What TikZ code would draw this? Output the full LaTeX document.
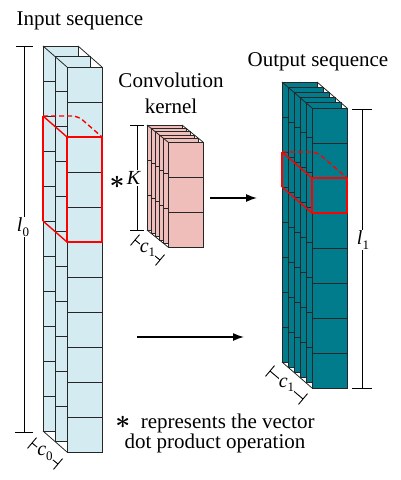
\documentclass[tikz,border=0pt]{standalone}
\usepackage{fontspec}
\setmainfont{Liberation Serif}
\usetikzlibrary{arrows.meta,calc}
\definecolor{incol}{RGB}{212,236,241}
\definecolor{kercol}{RGB}{240,190,186}
\definecolor{outcol}{RGB}{0,124,141}
\tikzset{
  cellline/.style={draw=black!85, line width=0.8pt},
  redbox/.style={draw=red, line width=1.4pt, line join=round},
  dimline/.style={draw=black, line width=0.9pt},
  lbl/.style={font=\fontsize{21}{22}\selectfont, inner sep=0.5pt},
  dimlbl/.style={font=\fontsize{20}{22}\selectfont, inner sep=1pt, fill=white},
  arr/.style={-{Latex[length=11pt,width=8pt]}, line width=1.4pt},
}
\newcommand\ilab[2]{\textit{#1}\raisebox{-0.22em}{\fontsize{13}{13}\selectfont #2}}
\newcommand\bigast{\scalebox{1.25}{\boldmath$\ast$}}
% #1 front x, #2 front y, #3 layers, #4 cells, #5 dx, #6 dy, #7 colour
\newcommand\layerstack[7]{%
  \pgfmathsetmacro\lsH{#4*35}%
  \pgfmathtruncatemacro\lsC{#4-1}%
  \pgfmathsetmacro\lsBX{#1-(#3-1)*#5}%
  \pgfmathsetmacro\lsBY{#2-(#3-1)*#6}%
  \foreach \i in {1,...,#3}{%
    \pgfmathsetmacro\lsX{#1-(#3-\i)*#5}%
    \pgfmathsetmacro\lsY{#2-(#3-\i)*#6}%
    \fill[#7] (\lsX,\lsY) rectangle ++(35,\lsH);
    \foreach \k in {1,...,\lsC}{\draw[cellline] (\lsX,\lsY+\k*35) -- ++(35,0);}
    \draw[cellline] (\lsX,\lsY) rectangle ++(35,\lsH);
  }
  \draw[cellline] (\lsBX,\lsBY) -- (#1,#2);
  \draw[cellline] (\lsBX+35,\lsBY) -- (#1+35,#2);
  \draw[cellline] (\lsBX,\lsBY+\lsH) -- (#1,#2+\lsH);
}
\begin{document}
\begin{tikzpicture}[x=1pt,y=-1pt]
\useasboundingbox (0,0) rectangle (400,480);
% stacks
\layerstack{67}{67}{3}{11}{12}{10.5}{incol}
\layerstack{168}{142}{6}{3}{4.2}{3.4}{kercol}
\layerstack{312}{108}{6}{8}{6}{5.2}{outcol}
% red windows
\draw[redbox] (67,137) rectangle (102,242);
\draw[redbox] (43,116) -- (43,221);
\draw[redbox] (43,116) -- (67,137);
\draw[redbox] (43,221) -- (67,242);
\draw[redbox, dashed, dash pattern=on 5pt off 3pt, rounded corners=6pt] (43,116) -- (78,116) -- (102,137);
\draw[redbox] (312,178) rectangle (347,213);
\draw[redbox] (282,152) -- (282,187);
\draw[redbox] (282,152) -- (312,178);
\draw[redbox] (282,187) -- (312,213);
\draw[redbox, dashed, dash pattern=on 5pt off 3pt, rounded corners=6pt] (282,152) -- (317,152) -- (347,178);
% titles
\node[lbl, anchor=base] (tin) at (80,25) {Input sequence};
\node[lbl, anchor=base] (tconv) at (171,87) {Convolution};
\node[lbl, anchor=base] (tker) at (171,113) {kernel};
\node[lbl, anchor=base] (tout) at (318,66) {Output sequence};
\node[lbl, anchor=base] (note1) at (215,428) {\bigast\ \ represents the vector};
\node[lbl, anchor=base] (note2) at (215,448) {dot product operation};
% l0 dimension
\coordinate (l0t) at (24,46);
\coordinate (l0b) at (24,432);
\draw[dimline] (l0t) -- (l0b);
\draw[dimline] ([xshift=-8pt]l0t) -- ([xshift=9pt]l0t);
\draw[dimline] ([xshift=-9pt]l0b) -- ([xshift=9pt]l0b);
\node[dimlbl] (l0lab) at (23,227) {\ilab{l}{0}};
% K dimension
\coordinate (kt) at (137,125);
\coordinate (kb) at (137,230);
\draw[dimline] (kt) -- (kb);
\draw[dimline] ([xshift=-7pt]kt) -- ([xshift=7pt]kt);
\draw[dimline] ([xshift=-7pt]kb) -- ([xshift=7pt]kb);
\node[dimlbl] (klab) at (134,178) {\textit{K}};
\node[lbl] (kstar) at (117,182) {\bigast};
% l1 dimension
\coordinate (l1t) at (362,109);
\coordinate (l1b) at (362,388);
\draw[dimline] (l1t) -- (l1b);
\draw[dimline] ([xshift=-10pt]l1t) -- ([xshift=10pt]l1t);
\draw[dimline] ([xshift=-10pt]l1b) -- ([xshift=10pt]l1b);
\node[dimlbl] (l1lab) at (363,240) {\ilab{l}{1}};
% c0 bracket
\coordinate (c0a) at (32,443);
\coordinate (c0b) at (58,464);
\draw[dimline] (c0a) -- (c0b);
\draw[dimline] ($(c0a)+(-4.5,5.4)$) -- ($(c0a)+(4.5,-5.4)$);
\draw[dimline] ($(c0b)+(-4.5,5.4)$) -- ($(c0b)+(4.5,-5.4)$);
\node[dimlbl, inner sep=0pt] (c0lab) at ($(c0a)!0.5!(c0b)$) {\ilab{c}{0}};
% kernel c1 bracket
\coordinate (kc1a) at (135,240);
\coordinate (kc1b) at (160,260);
\draw[dimline] (kc1a) -- (kc1b);
\draw[dimline] ($(kc1a)+(-4.5,5.4)$) -- ($(kc1a)+(4.5,-5.4)$);
\draw[dimline] ($(kc1b)+(-4.5,5.4)$) -- ($(kc1b)+(4.5,-5.4)$);
\node[dimlbl, inner sep=0pt] (kc1lab) at ($(kc1a)!0.5!(kc1b)$) {\ilab{c}{1}};
% output c1 bracket
\coordinate (oc1a) at (270,371);
\coordinate (oc1b) at (303,399);
\draw[dimline] (oc1a) -- (oc1b);
\draw[dimline] ($(oc1a)+(-4.5,5.4)$) -- ($(oc1a)+(4.5,-5.4)$);
\draw[dimline] ($(oc1b)+(-4.5,5.4)$) -- ($(oc1b)+(4.5,-5.4)$);
\node[dimlbl, inner sep=0pt] (oc1lab) at ($(oc1a)!0.5!(oc1b)$) {\ilab{c}{1}};
% arrows
\coordinate (a1s) at (210,198);
\coordinate (a1e) at (257,198);
\draw[arr] (a1s) -- (a1e);
\coordinate (a2s) at (137,337);
\coordinate (a2e) at (244,337);
\draw[arr] (a2s) -- (a2e);
\end{tikzpicture}
\end{document}
